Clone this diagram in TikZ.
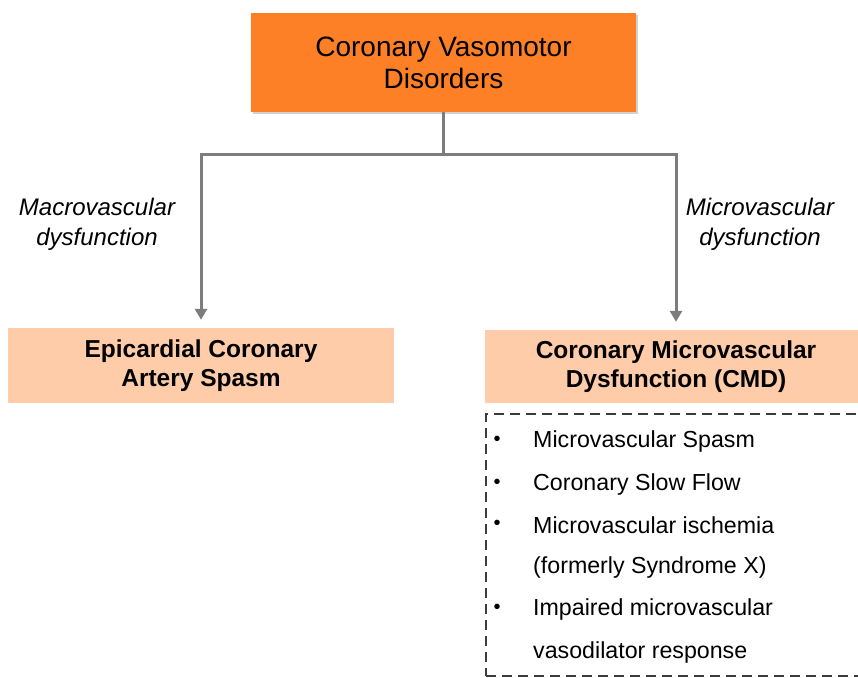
\documentclass[tikz,border=0pt]{standalone}
\usepackage{fontspec}
\setmainfont{Liberation Sans}
\usepackage{tikz}
\usetikzlibrary{positioning}
\usetikzlibrary{arrows.meta}
\usetikzlibrary{shadows}
\definecolor{vasoorange}{RGB}{253,128,38}
\definecolor{peach}{RGB}{255,204,170}
\definecolor{linegray}{RGB}{125,125,125}
\definecolor{dashgray}{RGB}{60,60,60}
\tikzset{
  topbox/.style={fill=vasoorange, minimum width=385pt, minimum height=99pt, align=center,
    font=\fontsize{28}{32}\selectfont, drop shadow={shadow xshift=2pt, shadow yshift=-2pt, opacity=.35}},
  subbox/.style={fill=peach, minimum width=386pt, minimum height=75pt, align=center,
    font=\fontsize{24.5}{29}\selectfont\bfseries},
  branch/.style={align=center, font=\fontsize{24}{30}\selectfont\itshape},
  link/.style={draw=linegray, line width=3pt},
  arrowlink/.style={link, -{Triangle[width=12pt,length=11pt]}, shorten >=8pt},
  listbox/.style={draw=dashgray, line width=1.8pt, dash pattern=on 10pt off 6pt, anchor=north west,
    minimum width=390pt, minimum height=262pt},
  item/.style={anchor=west, inner sep=0pt, font=\fontsize{23.2}{28}\selectfont},
  dot/.style={inner sep=0pt, font=\fontsize{20}{24}\selectfont}
}
\begin{document}
\begin{tikzpicture}[x=1pt,y=-1pt]
\useasboundingbox[fill=white] (0,0) rectangle (858,677);
\clip (0,0) rectangle (858,677);

\node(top)[topbox] at (443.5,62.5) {Coronary Vasomotor\\Disorders};
\node(epi)[subbox] at (201,365.5) {Epicardial Coronary\\Artery Spasm};
\node(cmd)[subbox, minimum width=382pt, minimum height=73pt] at (676,366.5) {Coronary Microvascular\\Dysfunction (CMD)};

\node(macro)[branch] at (97,224) {Macrovascular\\dysfunction};
\node(micro)[branch] at (760,224) {Microvascular\\dysfunction};

\coordinate(split) at (top.south |- 0,154);
\draw[link] (top.south)--(split);
\draw[arrowlink] (split) -| (epi.north);
\draw[arrowlink] (split) -| (cmd.north);

\node(list)[listbox] at (485,413) {};
\node(d1)[dot] at (497,441) {•};
\node(i1)[item] at (533,441) {Microvascular Spasm};
\node(d2)[dot] at (497,484) {•};
\node(i2)[item] at (533,484) {Coronary Slow Flow};
\node(d3)[dot] at (497,525) {•};
\node(i3)[item] at (533,525) {Microvascular ischemia};
\node(i4)[item] at (533,567) {(formerly Syndrome X)};
\node(d5)[dot] at (497,609) {•};
\node(i5)[item] at (533,609) {Impaired microvascular};
\node(i6)[item] at (533,652) {vasodilator response};
\end{tikzpicture}
\end{document}
